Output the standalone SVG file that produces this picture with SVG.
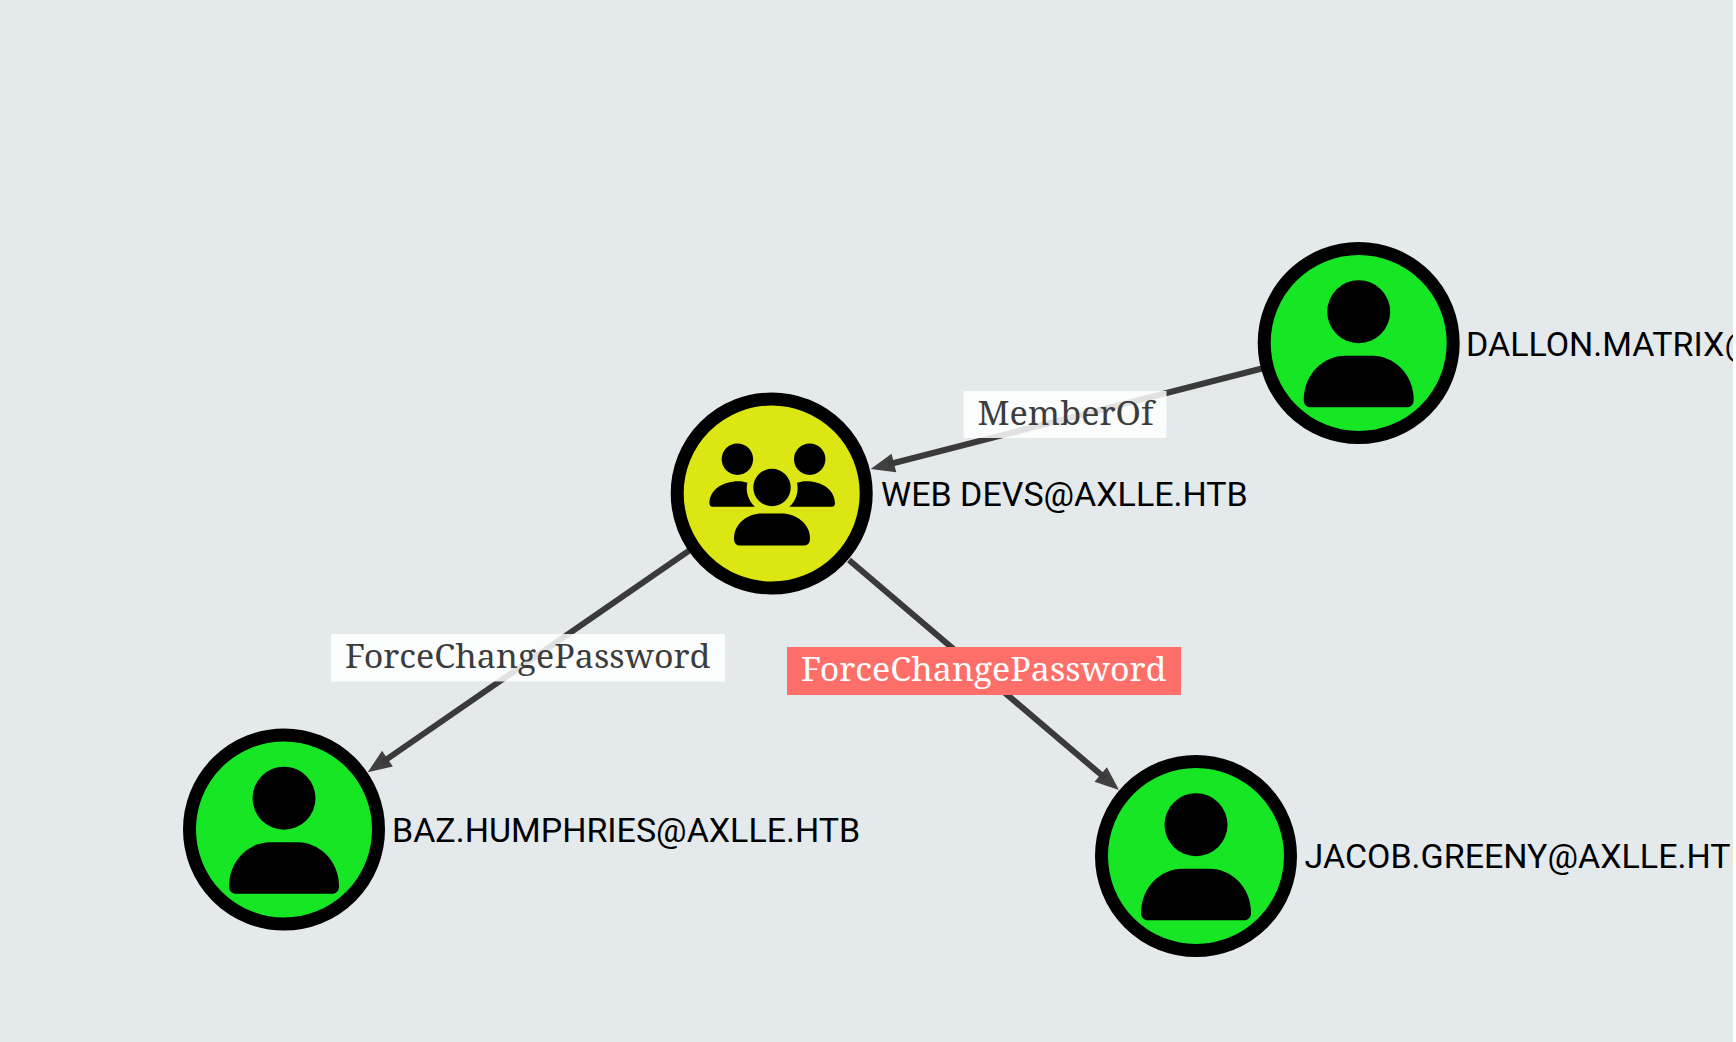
<svg xmlns="http://www.w3.org/2000/svg" width="1736" height="1042" viewBox="0 0 1736 1042">
<style>
.ring{stroke:#000;stroke-width:13}
.user{fill:#17e625}
.grp{fill:#dce612}
.nl{font-family:Roboto,"Liberation Sans",sans-serif;font-size:34px;fill:#000}
.el{font-family:"Noto Serif","DejaVu Serif","Liberation Serif",serif;font-size:33px;text-anchor:start}
.e{stroke:#3a3a3a;stroke-width:6;fill:none;marker-end:url(#arrow)}
</style>
<defs>
<marker id="arrow" markerUnits="userSpaceOnUse" markerWidth="26" markerHeight="21" refX="7" refY="10.5" orient="auto" viewBox="0 0 26 21"><path d="M1 1L25 10.5L1 20z" fill="#3a3a3a" fill-opacity=".97"/></marker>
<g id="personIcon"><circle cx="0" cy="-31.3" r="31.5"/><path d="M-55 57C-55 30-34 12.7-14 12.7H14C34 12.7 55 30 55 57C55 61.5 52 64.3 48 64.3H-48C-52 64.3-55 61.5-55 57Z"/></g>
</defs>
<rect width="1736" height="1042" fill="#e4e9ec"/>
<g id="connectors">
<line class="e" x1="1262" y1="368.5" x2="888.1" y2="464.5"/>
<line class="e" x1="690" y1="550" x2="382.5" y2="762.1"/>
<line class="e" x1="849" y1="560" x2="1105.3" y2="778.3"/>
</g>
<g id="node-dallon"><circle class="ring user" cx="1358.7" cy="343" r="94.5"/><use href="#personIcon" x="1358.7" y="343"/><text class="nl" x="1466" y="355.5">DALLON.MATRIX@AXLLE.HTB</text></g>
<g id="node-webdevs"><circle class="ring grp" cx="771.7" cy="493.5" r="94.5"/>
<g transform="translate(771.7 493.5)"><circle cx="-34.3" cy="-34.3" r="15.7"/><circle cx="38" cy="-34.3" r="15.7"/><circle cx="0.3" cy="-6" r="18.7"/><path d="M-62.3 10C-62.3-3-50-12.3-33-12.3C-30-12.3-27-11.7-24.3-10.7C-26.5 -2-23 8-16.7 13.3H-59C-61 13.3-62.3 12-62.3 10Z"/><path d="M63.3 10C63.3-3 51-12.3 35-12.3C31-12.3 28-11.7 25.3-10.7C27.5-2 24 8 17.7 13.3H60C62 13.3 63.3 12 63.3 10Z"/><path d="M-37.7 45C-37.7 30-24 20-10 20H10C24 20 38.3 30 38.3 45C38.3 49.5 36 52 32 52H-32C-35.5 52-37.7 49.5-37.7 45Z"/></g>
<text class="nl" x="881" y="505.5">WEB DEVS@AXLLE.HTB</text></g>
<g id="node-baz"><circle class="ring user" cx="284" cy="829.5" r="94.5"/><use href="#personIcon" x="284" y="829.5"/><text class="nl" x="392" y="841.5">BAZ.HUMPHRIES@AXLLE.HTB</text></g>
<g id="node-jacob"><circle class="ring user" cx="1196" cy="856" r="94.5"/><use href="#personIcon" x="1196" y="856"/><text class="nl" x="1304.5" y="867.5">JACOB.GREENY@AXLLE.HTB</text></g>
<g id="edge-label-memberof"><rect x="963.5" y="391" width="203" height="47" fill="#fff" fill-opacity=".85"/><text class="el" x="977.5" y="425" fill="#3c3c3c" textLength="176" lengthAdjust="spacingAndGlyphs">MemberOf</text></g>
<g id="edge-label-fcp1"><rect x="331" y="634" width="394" height="47.5" fill="#fff" fill-opacity=".85"/><text class="el" x="345" y="668" fill="#3c3c3c" textLength="365.5" lengthAdjust="spacingAndGlyphs">ForceChangePassword</text></g>
<g id="edge-label-fcp2"><rect x="787" y="647" width="394" height="48" fill="#ff6f69"/><text class="el" x="801" y="681" fill="#fff" textLength="365.5" lengthAdjust="spacingAndGlyphs">ForceChangePassword</text></g>
<rect x="1733" y="0" width="3" height="1042" fill="#fff"/>
</svg>
